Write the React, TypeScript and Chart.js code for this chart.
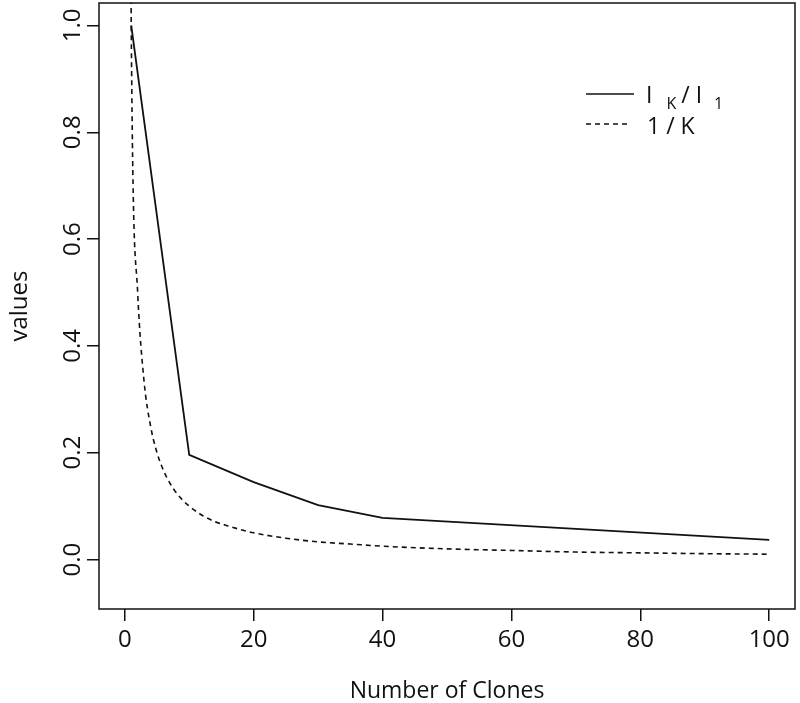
import React, { useEffect, useRef } from "react";
import { Chart, registerables } from "chart.js";

Chart.register(...registerables);

// Solid series: I_K / I_1
const clones = [1, 10, 20, 30, 40, 100];
const ratioValues = [1.0, 0.196, 0.145, 0.102, 0.078, 0.037];

// Dashed series: 1/K (first point is the clipped start above the plot)
const recipK = [0.97, 1, 2, 3, 4, 5, 6, 7, 8, 9, 10, 12, 14, 16, 18, 20, 25, 30, 35, 40, 50, 60, 70, 80, 90, 100];
const recipValues = [1.1, 1.0, 0.5, 0.333, 0.25, 0.2, 0.167, 0.143, 0.125, 0.111, 0.1, 0.083, 0.071, 0.063, 0.056, 0.05, 0.04, 0.033, 0.029, 0.025, 0.02, 0.017, 0.014, 0.0125, 0.011, 0.01];

const xTicks = [0, 20, 40, 60, 80, 100];
const yTicks = [0, 0.2, 0.4, 0.6, 0.8, 1.0];
const yTickLabels = ["0.0", "0.2", "0.4", "0.6", "0.8", "1.0"];

const xTitle = "Number of Clones";
const yTitle = "values";

const FONT = "'Open Sans', sans-serif";
const INK = "#111";

const decorPlugin = {
  id: "decor",
  afterDraw(chart: any) {
    const { ctx, chartArea } = chart;
    const ys = chart.scales.y;
    ctx.save();
    // box
    ctx.strokeStyle = INK;
    ctx.lineWidth = 1.5;
    ctx.strokeRect(chartArea.left, chartArea.top, chartArea.right - chartArea.left, chartArea.bottom - chartArea.top);

    ctx.fillStyle = INK;
    // y tick labels (rotated)
    ctx.font = `24px ${FONT}`;
    ctx.textAlign = "center";
    ctx.textBaseline = "alphabetic";
    yTicks.forEach((v, i) => {
      const py = ys.getPixelForValue(v);
      ctx.save();
      ctx.translate(80, py);
      ctx.rotate(-Math.PI / 2);
      ctx.fillText(yTickLabels[i], 0, 0);
      ctx.restore();
    });
    // y title
    ctx.save();
    ctx.translate(27, (chartArea.top + chartArea.bottom) / 2);
    ctx.rotate(-Math.PI / 2);
    ctx.fillText(yTitle, 0, 0);
    ctx.restore();
    // x title
    ctx.font = `23px ${FONT}`;
    ctx.fillText(xTitle, (chartArea.left + chartArea.right) / 2, 698);

    // legend
    const lx0 = 586, lx1 = 634, tx = 646;
    const r1 = 94, r2 = 124;
    ctx.lineWidth = 1.6;
    ctx.beginPath();
    ctx.moveTo(lx0, r1);
    ctx.lineTo(lx1, r1);
    ctx.stroke();
    ctx.setLineDash([5, 4]);
    ctx.beginPath();
    ctx.moveTo(lx0, r2);
    ctx.lineTo(lx1 - 4, r2);
    ctx.stroke();
    ctx.setLineDash([]);

    ctx.textAlign = "left";
    const big = `23px ${FONT}`;
    const small = `16px ${FONT}`;
    let x = tx;
    const b1 = r1 + 9;
    const parts1: [string, string, number][] = [
      ["I", big, 0],
      ["K", small, 6],
      ["/", big, 0],
      ["I", big, 0],
      ["1", small, 6],
    ];
    const gaps1 = [14, 5, 6, 12, 0];
    parts1.forEach(([t, f, dy], i) => {
      ctx.font = f;
      ctx.fillText(t, x, b1 + dy);
      x += ctx.measureText(t).width + gaps1[i];
    });
    x = tx + 1;
    const b2 = r2 + 10;
    const parts2 = ["1", "/", "K"];
    ctx.font = big;
    parts2.forEach((t) => {
      ctx.fillText(t, x, b2);
      x += ctx.measureText(t).width + 6;
    });
    ctx.restore();
  },
};

export default function App() {
  const ref = useRef<HTMLCanvasElement | null>(null);
  useEffect(() => {
    if (!ref.current) return;
    const chart = new Chart(ref.current, {
      type: "line",
      data: {
        datasets: [
          {
            label: "I_K/I_1",
            data: clones.map((c, i) => ({ x: c, y: ratioValues[i] })),
            borderColor: INK,
            borderWidth: 1.8,
            pointRadius: 0,
            tension: 0,
            fill: false,
          },
          {
            label: "1/K",
            data: recipK.map((c, i) => ({ x: c, y: recipValues[i] })),
            borderColor: INK,
            borderWidth: 1.6,
            borderDash: [5, 4],
            pointRadius: 0,
            cubicInterpolationMode: "monotone",
            fill: false,
          },
        ],
      },
      options: {
        animation: false,
        responsive: false,
        maintainAspectRatio: false,
        layout: { padding: { top: 3, right: 5, left: 0, bottom: 0 } },
        plugins: { legend: { display: false }, tooltip: { enabled: false } },
        scales: {
          x: {
            type: "linear",
            min: -4,
            max: 104,
            afterBuildTicks: (s: any) => {
              s.ticks = xTicks.map((v) => ({ value: v }));
            },
            afterFit: (s: any) => {
              s.height = 94;
            },
            border: { display: false },
            grid: { drawOnChartArea: false, drawTicks: true, tickLength: 12, color: INK, lineWidth: 1.5 },
            ticks: { color: INK, font: { family: FONT, size: 24 }, padding: 5, maxRotation: 0 },
          },
          y: {
            type: "linear",
            min: -0.0926,
            max: 1.042,
            afterBuildTicks: (s: any) => {
              s.ticks = yTicks.map((v) => ({ value: v }));
            },
            afterFit: (s: any) => {
              s.width = 99;
            },
            border: { display: false },
            grid: { drawOnChartArea: false, drawTicks: true, tickLength: 12, color: INK, lineWidth: 1.5 },
            ticks: { display: false },
          },
        },
      },
      plugins: [decorPlugin],
    });
    return () => chart.destroy();
  }, []);
  return (
    <div style={{ position: "fixed", left: 0, top: 0, width: 800, height: 703, background: "#fff" }}>
      <canvas ref={ref} width={800} height={703} />
    </div>
  );
}
